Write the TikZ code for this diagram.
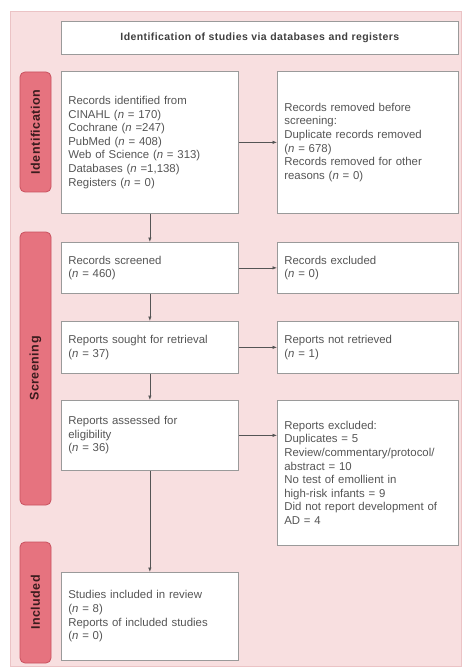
\documentclass[tikz,border=0pt]{standalone}
\usepackage{fontspec}
\setmainfont{Liberation Sans}
\usetikzlibrary{arrows.meta}
\definecolor{bgpink}{HTML}{F8DFE0}
\definecolor{bgedge}{HTML}{EBC3C5}
\definecolor{labfill}{HTML}{E6737F}
\definecolor{labedge}{HTML}{C9515F}
\definecolor{labtext}{HTML}{3A1C1E}
\definecolor{boxedge}{HTML}{9A9A9A}
\definecolor{txt}{HTML}{555555}
\definecolor{arr}{HTML}{555555}
\begin{document}
\begin{tikzpicture}[x=1pt,y=-1pt,
 box/.style={draw=boxedge, fill=white, line width=0.7pt, align=left, inner xsep=7pt, inner ysep=0pt, text=txt, font=\fontsize{11.4}{13.6}\selectfont, anchor=north west},
 lbox/.style={box, minimum width=177pt, text width=163pt},
 rbox/.style={box, minimum width=181pt, text width=167pt},
 lab/.style={draw=labedge, fill=labfill, line width=0.8pt, rounded corners=5pt, rotate=90, text=labtext, font=\bfseries\fontsize{12.5}{14}\selectfont\addfontfeatures{LetterSpace=4}, minimum height=31pt, inner sep=0pt},
 arrow/.style={draw=arr, line width=0.7pt, -{Latex[length=4.5pt,width=3.5pt]}}]
\useasboundingbox (0,0) rectangle (463,668);
\fill[white] (0,0) rectangle (463,668);
\draw[fill=bgpink, draw=bgedge, line width=0.8pt] (10,11) rectangle (461,666);

\node[box, minimum width=397pt, minimum height=33pt, align=center, text width=383pt, font=\bfseries\fontsize{10.5}{12}\selectfont\addfontfeatures{LetterSpace=4}, text=black!75] (title) at (61,21) {Identification of studies via databases and registers};

\node[lab, minimum width=120pt] (labid) at (35.5,132) {Identification};
\node[lab, minimum width=273pt] (labscr) at (35.5,368.5) {Screening};
\node[lab, minimum width=121pt] (labinc) at (35.5,602.5) {Included};

\node[lbox, minimum height=142pt] (ident) at (61,71) {Records identified from\\CINAHL (\textit{n} = 170)\\Cochrane (\textit{n} =247)\\PubMed (\textit{n} = 408)\\Web of Science (\textit{n} = 313)\\Databases (\textit{n} =1,138)\\Registers (\textit{n} = 0)};
\node[rbox, minimum height=142pt] (removed) at (277,71) {Records removed before\\screening:\\Duplicate records removed\\(\textit{n} = 678)\\Records removed for other\\reasons (\textit{n} = 0)};

\node[lbox, minimum height=51pt] (screened) at (61,242) {Records screened\\(\textit{n} = 460)};
\node[rbox, minimum height=51pt] (excluded) at (277,242) {Records excluded\\(\textit{n} = 0)};

\node[lbox, minimum height=52pt] (sought) at (61,321) {Reports sought for retrieval\\(\textit{n} = 37)};
\node[rbox, minimum height=52pt] (notret) at (277,321) {Reports not retrieved\\(\textit{n} = 1)};

\node[lbox, minimum height=70pt] (assessed) at (61,400) {Reports assessed for\\eligibility\\(\textit{n} = 36)};
\node[rbox, minimum height=145pt] (excl2) at (277,400) {Reports excluded:\\Duplicates = 5\\Review/commentary/protocol/\\abstract = 10\\No test of emollient in\\high-risk infants = 9\\Did not report development of\\AD = 4};

\node[lbox, minimum height=88pt] (incl) at (61,572) {Studies included in review\\(\textit{n} = 8)\\Reports of included studies\\(\textit{n} = 0)};

\draw[arrow] (ident.east) -- (removed.west);
\draw[arrow] (screened.east) -- (excluded.west);
\draw[arrow] (sought.east) -- (notret.west);
\draw[arrow] (assessed.east) -- (assessed.east -| excl2.west);
\draw[arrow] (ident.south) -- (screened.north);
\draw[arrow] (screened.south) -- (sought.north);
\draw[arrow] (sought.south) -- (assessed.north);
\draw[arrow] (assessed.south) -- (incl.north);
\end{tikzpicture}
\end{document}
